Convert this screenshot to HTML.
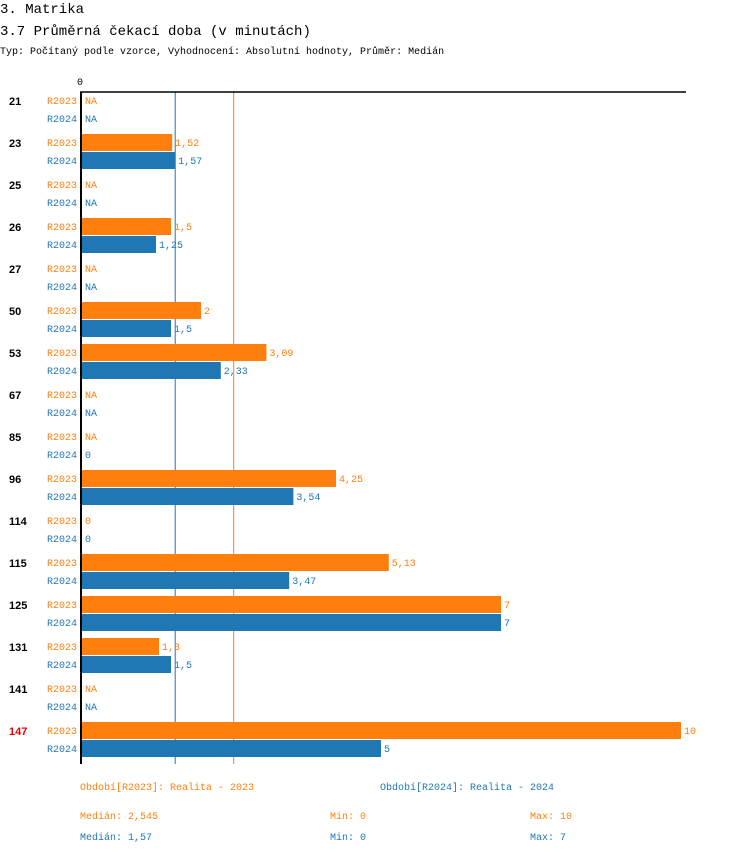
<!DOCTYPE html>
<html><head><meta charset="utf-8"><style>
body{margin:0;background:#fff;width:750px;height:854px;overflow:hidden}
svg text{font-family:"Liberation Mono",monospace}
</style></head><body>
<svg width="750" height="854" xmlns="http://www.w3.org/2000/svg">
<text x="0" y="13" font-size="14">3. Matrika</text>
<text x="0" y="35" font-size="14">3.7 Průměrná čekací doba (v minutách)</text>
<text x="0" y="54" font-size="10">Typ: Počítaný podle vzorce, Vyhodnocení: Absolutní hodnoty, Průměr: Medián</text>
<text x="80" y="85" font-size="10" text-anchor="middle">0</text>
<g id="plot"></g>
<line x1="80" y1="92" x2="686" y2="92" stroke="#000" stroke-width="1.5"/>
<line x1="81" y1="92" x2="81" y2="764" stroke="#000" stroke-width="2"/>
<g font-size="10">
<text x="80" y="790" fill="#ff7f0e">Období[R2023]: Realita - 2023</text>
<text x="380" y="790" fill="#1f77b4">Období[R2024]: Realita - 2024</text>
<text x="80" y="819" fill="#ff7f0e">Medián: 2,545</text>
<text x="330" y="819" fill="#ff7f0e">Min: 0</text>
<text x="530" y="819" fill="#ff7f0e">Max: 10</text>
<text x="80" y="840" fill="#1f77b4">Medián: 1,57</text>
<text x="330" y="840" fill="#1f77b4">Min: 0</text>
<text x="530" y="840" fill="#1f77b4">Max: 7</text>
</g>
</svg>
<script>
const categories=["21","23","25","26","27","50","53","67","85","96","114","115","125","131","141","147"];
const r2023=[null,1.52,null,1.5,null,2,3.09,null,null,4.25,0,5.13,7,1.3,null,10];
const r2024=[null,1.57,null,1.25,null,1.5,2.33,null,0,3.54,0,3.47,7,1.5,null,5];
const medians=[2.545,1.57];
const x0=81,pxPerUnit=60.0;
const xs=v=>x0+v*pxPerUnit;
const NS="http://www.w3.org/2000/svg";
const g=document.getElementById('plot');
const colors=["#ff7f0e","#1f77b4"];
function mk(t,a){const e=document.createElementNS(NS,t);for(const k in a)e.setAttribute(k,a[k]);g.appendChild(e);return e;}
const fmt=v=>String(v).replace('.',',');
medians.forEach((m,j)=>{
 const l=mk('line',{x1:xs(m),x2:xs(m),y1:92,y2:764,stroke:colors[j],'stroke-width':1});
 
 
});
categories.forEach((c,i)=>{
 const yc=101+42*i;
 const t=mk('text',{x:9,y:yc+4,'font-size':11,'font-weight':'bold',fill:c==="147"?"#e00":"#000",style:'font-family:"Liberation Sans",sans-serif'});
 t.textContent=c;
 
 
 [r2023,r2024].forEach((s,j)=>{
  const y=yc+18*j;const v=s[i];
  const lab=mk('text',{x:77,y:y+3,'font-size':10,'text-anchor':'end',fill:colors[j]});
  lab.textContent=j?'R2024':'R2023';
  
  
  let endx=x0+2;
  if(v!==null&&v>0){
   const b=mk('rect',{x:x0,y:y-9,width:xs(v)-x0,height:17,fill:colors[j]});
   
   
   endx=xs(v)+3;
  }
  const vt=mk('text',{x:endx+(v===null||v===0?2:0),y:y+3,'font-size':10,fill:colors[j]});
  vt.textContent=v===null?'NA':fmt(v);
  
  
 });
});
</script>
</body></html>
